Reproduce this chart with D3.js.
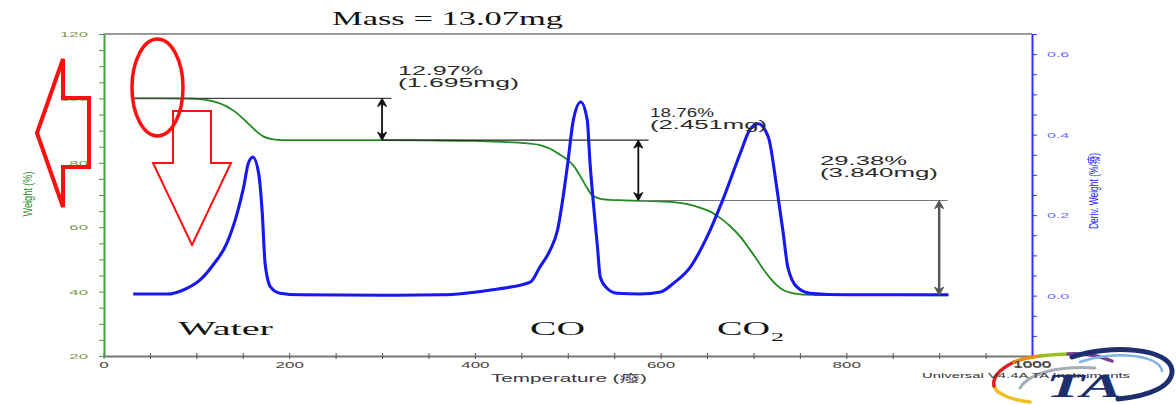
<!DOCTYPE html>
<html>
<head>
<meta charset="utf-8">
<script src="https://cdn.jsdelivr.net/npm/d3@7"></script>
<style>
body { margin: 0; background: #fff; }
svg { display: block; font-family: "Liberation Sans", Arial, "Noto Sans CJK SC", sans-serif; }
</style>
</head>
<body>
<svg id="tga" width="1176" height="405"></svg>
<script>
// TGA weight loss (green, left axis) and derivative weight (blue, right axis)
var tgaTemp = [32, 60, 90, 104, 115, 123, 132, 140, 150, 158, 165, 172, 180, 187, 200, 250, 300, 350, 400, 430, 450, 470, 480, 489, 500, 507, 514, 520, 526, 535, 545, 560, 578, 600, 614, 630, 643, 655, 664, 675, 686, 695, 704, 711, 718, 725, 732, 740, 747, 760, 800, 850, 910];
var tgaWeight = [100, 100, 99.97, 99.75, 99.3, 98.7, 97.6, 96.2, 93.8, 91.6, 89.7, 88.2, 87.4, 87.15, 87.05, 87.03, 87.03, 86.95, 86.8, 86.5, 86.2, 85.5, 84.5, 83.0, 80.9, 78.8, 75.6, 72.6, 70.0, 68.8, 68.5, 68.35, 68.2, 68.0, 67.8, 67.1, 66.0, 64.6, 62.9, 60.3, 57.0, 53.5, 49.8, 46.8, 44.2, 42.0, 40.5, 39.7, 39.3, 39.0, 38.9, 38.9, 38.85];

var dtgTemp = [32, 69, 86, 104, 118, 133, 144, 151, 156, 161, 167, 171, 174, 180, 190, 212, 300, 363, 390, 417, 440, 460, 470, 481, 489, 495, 500, 506, 514, 521, 524, 527, 532, 535, 542, 553, 578, 600, 614, 632, 650, 667, 686, 696, 705, 716, 725, 732, 737, 747, 761, 800, 910];
var dtgDeriv = [0.004, 0.004, 0.014, 0.039, 0.076, 0.131, 0.205, 0.270, 0.329, 0.344, 0.305, 0.205, 0.081, 0.021, 0.006, 0.002, 0.001, 0.002, 0.006, 0.014, 0.022, 0.034, 0.071, 0.113, 0.163, 0.245, 0.329, 0.436, 0.481, 0.436, 0.329, 0.245, 0.121, 0.046, 0.019, 0.006, 0.004, 0.009, 0.031, 0.071, 0.146, 0.238, 0.355, 0.412, 0.427, 0.394, 0.270, 0.156, 0.071, 0.021, 0.006, 0.002, 0.002];

var xTicks = d3.range(0, 1001, 50);
var weightTicks = d3.range(20, 121, 5);
var derivTicks = d3.range(-3, 14).map(i => +(i * 0.05).toFixed(2));

// weight steps
var stepTemps = [300, 576, 900];
var stepLevels = [100, 87.03, 68.27, 38.89];
var stepPct = ["12.97%", "18.76%", "29.38%"];
var stepMg = ["(1.695mg)", "(2.451mg)", "(3.840mg)"];

var svg = d3.select("#tga");

var x = d3.scaleLinear().domain([0, 1000]).range([103.5, 1032]);
var yW = d3.scaleLinear().domain([20, 120]).range([356, 34]);
var yD = d3.scaleLinear().domain([-0.15, 0.65]).range([356, 34]);

// the original picture is stretched sideways, so text gets widened too
function widen(sel, k) {
    sel.each(function() {
        var n = this.getComputedTextLength();
        if (n > 0) d3.select(this).attr("textLength", n * k).attr("lengthAdjust", "spacingAndGlyphs");
    });
}
function fit(sel, w) {
    sel.attr("textLength", w).attr("lengthAdjust", "spacingAndGlyphs");
}

// frame top line
svg.append("line")
    .attr("x1", x(0)).attr("x2", x(1000))
    .attr("y1", 34).attr("y2", 34)
    .attr("stroke", "#999").attr("stroke-width", 2);

// x axis
var xAxis = svg.append("g")
    .attr("transform", "translate(0,356)")
    .call(d3.axisBottom(x).tickValues(xTicks).tickFormat(d => d % 200 === 0 ? d : "")
        .tickSize(3).tickSizeOuter(0).tickPadding(3));
xAxis.attr("font-family", null);
xAxis.select(".domain").attr("stroke", "#777").attr("stroke-width", 2);
xAxis.selectAll(".tick line").attr("stroke", "#555").attr("y1", -3);
xAxis.selectAll("text").attr("fill", "#4a4440").style("font-size", "8.5px");
widen(xAxis.selectAll("text"), 2.0);

// left weight axis
var wAxis = svg.append("g")
    .attr("transform", "translate(104,0)")
    .call(d3.axisLeft(yW).tickValues(weightTicks).tickFormat(d => d % 20 === 0 ? d : "")
        .tickSize(5).tickSizeOuter(0).tickPadding(11));
wAxis.attr("font-family", null);
wAxis.select(".domain").attr("stroke", "#44a044").attr("stroke-width", 2);
wAxis.selectAll(".tick line").attr("stroke", "#44a044");
wAxis.selectAll("text").attr("fill", "#7f9a45").style("font-size", "8px");
widen(wAxis.selectAll("text"), 2.1);

// right deriv axis
var dAxis = svg.append("g")
    .attr("transform", "translate(1032,0)")
    .call(d3.axisRight(yD).tickValues(derivTicks)
        .tickFormat(d => Math.round(d * 100) % 20 === 0 ? d3.format(".1f")(d) : "")
        .tickSize(5).tickSizeOuter(0).tickPadding(10));
dAxis.attr("font-family", null);
dAxis.select(".domain").attr("stroke", "#3030ff").attr("stroke-width", 2);
dAxis.selectAll(".tick line").attr("stroke", "#3030ff");
dAxis.selectAll("text").attr("fill", "#6a6aff").style("font-size", "8px");
widen(dAxis.selectAll("text"), 2.0);

// axis titles
svg.append("text")
    .attr("transform", "translate(32,194) rotate(-90)")
    .attr("text-anchor", "middle")
    .attr("fill", "#2a8a2a")
    .style("font-size", "13px")
    .text("Weight (%)")
    .call(fit, 45);

svg.append("text")
    .attr("transform", "translate(1098,191) rotate(-90)")
    .attr("text-anchor", "middle")
    .attr("fill", "#2222ff")
    .style("font-size", "13px")
    .text("Deriv. Weight (%/癈)")
    .call(fit, 76);

svg.append("text")
    .attr("x", 569).attr("y", 382)
    .attr("text-anchor", "middle")
    .attr("fill", "#3a3440")
    .style("font-size", "10.5px")
    .text("Temperature (癈)")
    .call(fit, 156);

// green TGA curve
var weightLine = d3.line()
    .x((d, i) => x(tgaTemp[i]))
    .y(d => yW(d))
    .curve(d3.curveMonotoneX);

svg.append("path")
    .datum(tgaWeight)
    .attr("fill", "none")
    .attr("stroke", "#1f8b1f")
    .attr("stroke-width", 1.8)
    .attr("d", weightLine);

// step reference lines
var stepLines = [
    { w: stepLevels[0], t0: 32, t1: stepTemps[0] + 10, c: "#444" },
    { w: stepLevels[1], t0: stepTemps[0], t1: stepTemps[1] + 11, c: "#222" },
    { w: stepLevels[2], t0: stepTemps[1], t1: stepTemps[2] + 9, c: "#777" },
    { w: stepLevels[3], t0: 765, t1: stepTemps[2] + 9, c: "#444" }
];
svg.selectAll(".step-line")
    .data(stepLines)
    .enter().append("line")
    .attr("class", "step-line")
    .attr("x1", d => x(d.t0)).attr("x2", d => x(d.t1))
    .attr("y1", d => yW(d.w)).attr("y2", d => yW(d.w))
    .attr("stroke", d => d.c).attr("stroke-width", 1.1);

svg.append("line")
    .attr("x1", x(32)).attr("x2", x(32))
    .attr("y1", yW(100) - 3).attr("y2", yW(100) + 3)
    .attr("stroke", "#222").attr("stroke-width", 1.3);

// blue DTG curve
var derivLine = d3.line()
    .x((d, i) => x(dtgTemp[i]))
    .y(d => yD(d))
    .curve(d3.curveMonotoneX);

svg.append("path")
    .datum(dtgDeriv)
    .attr("fill", "none")
    .attr("stroke", "#1818f0")
    .attr("stroke-width", 3.1)
    .attr("stroke-linejoin", "round")
    .attr("d", derivLine);

// double headed arrows for each step
stepTemps.forEach(function(t, i) {
    var ax = x(t), y1 = yW(stepLevels[i]), y2 = yW(stepLevels[i + 1]);
    var c = i === 2 ? "#555" : "#111";
    svg.append("line")
        .attr("x1", ax).attr("x2", ax)
        .attr("y1", y1 + 2).attr("y2", y2 - 2)
        .attr("stroke", c).attr("stroke-width", i === 2 ? 2.4 : 1.8);
    svg.append("path")
        .attr("d", "M" + ax + "," + y1 + "l-4.5,8l4.5,-2.5l4.5,2.5z")
        .attr("fill", c).attr("stroke", c).attr("stroke-width", 1);
    svg.append("path")
        .attr("d", "M" + ax + "," + y2 + "l-4.5,-8l4.5,2.5l4.5,-2.5z")
        .attr("fill", c).attr("stroke", c).attr("stroke-width", 1);
});

// step labels
var labelSpots = [
    { x: 398, y: 75, w1: 85, w2: 121 },
    { x: 650, y: 117, w1: 64, w2: 117 },
    { x: 820, y: 165, w1: 87, w2: 118 }
];
labelSpots.forEach(function(p, i) {
    svg.append("text")
        .attr("x", p.x).attr("y", p.y)
        .attr("fill", "#2a2a2a")
        .style("font-size", "12.5px")
        .text(stepPct[i])
        .call(fit, p.w1);
    svg.append("text")
        .attr("x", p.x).attr("y", p.y + 12)
        .attr("fill", "#2a2a2a")
        .style("font-size", "12.5px")
        .text(stepMg[i])
        .call(fit, p.w2);
});

// serif notes
var serif = "'Liberation Serif', 'Times New Roman', serif";
svg.append("text")
    .attr("x", 332).attr("y", 25)
    .style("font-family", serif).style("font-size", "18px")
    .attr("fill", "#111")
    .text("Mass = 13.07mg")
    .call(fit, 231);

svg.append("text")
    .attr("x", 178).attr("y", 335)
    .style("font-family", serif).style("font-size", "19px")
    .attr("fill", "#111")
    .text("Water")
    .call(fit, 95);

svg.append("text")
    .attr("x", 530).attr("y", 335)
    .style("font-family", serif).style("font-size", "19px")
    .attr("fill", "#111")
    .text("CO")
    .call(fit, 55);

svg.append("text")
    .attr("x", 717).attr("y", 335)
    .style("font-family", serif).style("font-size", "19px")
    .attr("fill", "#111")
    .text("CO")
    .call(fit, 53);

svg.append("text")
    .attr("x", 771).attr("y", 341)
    .style("font-family", serif).style("font-size", "13px")
    .attr("fill", "#111")
    .text("2")
    .call(fit, 13);

// TA logo, bottom right
var logo = svg.append("g").attr("fill", "none").attr("stroke-linecap", "round");
var rainbow = [
    { d: "M1030,402 C1012,400 996,394 994,386", c: "#f0c020" },
    { d: "M994,386 C992,376 1002,368 1014,362", c: "#e02020" },
    { d: "M1014,362 C1024,358 1032,357 1040,356", c: "#f08a10" },
    { d: "M1040,356 C1050,355 1058,354 1068,354", c: "#9ac020" },
    { d: "M1068,354 C1085,353 1100,356 1112,361", c: "#7a3a9a" }
];
rainbow.forEach(function(s) {
    logo.append("path").attr("d", s.d).attr("stroke", s.c).attr("stroke-width", 3.5);
});
logo.append("path")
    .attr("d", "M1020,388 C1030,372 1060,366 1095,368")
    .attr("stroke", "#a5adb8").attr("stroke-width", 3);
logo.append("path")
    .attr("d", "M1080,362 C1115,350 1160,355 1162,371")
    .attr("stroke", "#80b4e4").attr("stroke-width", 2.5);
logo.append("path")
    .attr("d", "M1072,357 C1110,344 1170,348 1172,370 C1173,386 1150,396 1118,399")
    .attr("stroke", "#1d2f6f").attr("stroke-width", 5);

svg.append("text")
    .attr("x", 1032).attr("y", 367)
    .attr("text-anchor", "middle")
    .attr("fill", "#4a4440")
    .style("font-size", "8.5px")
    .text("1000")
    .call(fit, 38);

svg.append("text")
    .attr("x", 922).attr("y", 378)
    .attr("fill", "#333")
    .style("font-size", "8px")
    .text("Universal V4.4A TA Instruments")
    .call(fit, 208);

svg.append("text")
    .attr("x", 1046).attr("y", 397)
    .style("font-family", serif).style("font-size", "33px")
    .style("font-style", "italic").style("font-weight", "bold")
    .attr("fill", "#1d2f6f")
    .text("TA")
    .call(fit, 76);

// red highlight shapes
var red = svg.append("g").attr("fill", "none").attr("stroke", "#ff1010");
red.append("ellipse")
    .attr("cx", 157.5).attr("cy", 87.5)
    .attr("rx", 25.5).attr("ry", 48.5)
    .attr("stroke-width", 3.5);
red.append("path")
    .attr("d", "M63,59 L37,133 L63,207 L63,167 L89,167 L89,98 L63,98 Z")
    .attr("stroke-width", 4).attr("stroke-linejoin", "miter");
red.append("path")
    .attr("d", "M173,111 L211,111 L211,163 L231,163 L192,245 L153,163 L173,163 Z")
    .attr("stroke-width", 2).attr("stroke-linejoin", "miter");
</script>
</body>
</html>
